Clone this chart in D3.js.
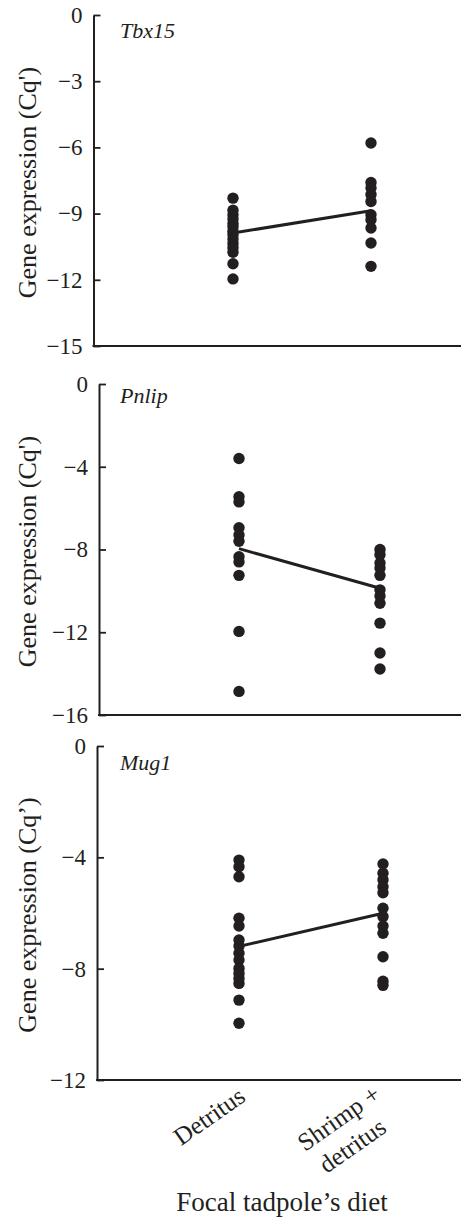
<!DOCTYPE html>
<html>
<head>
<meta charset="utf-8">
<script src="https://cdn.jsdelivr.net/npm/d3@7"></script>
<style>
  html, body { margin: 0; padding: 0; background: #fff; }
  svg { display: block; }
  text { font-family: "Liberation Serif", "Times New Roman", serif; fill: #231f20; }
</style>
</head>
<body>
<svg id="chart" width="461" height="1223"></svg>
<script>
// ---- data ----
const categories = ["Detritus", "Shrimp + detritus"];
const categoryLines = [["Detritus"], ["Shrimp +", "detritus"]];
const genes = ["Tbx15", "Pnlip", "Mug1"];
const yLabels = ["Gene expression (Cq')", "Gene expression (Cq')", "Gene expression (Cq’)"];
const yDomains = [[0, -15], [0, -16], [0, -12]];
const yTicks = [[0, -3, -6, -9, -12, -15], [0, -4, -8, -12, -16], [0, -4, -8, -12]];

const tbx15Detritus = [-8.3, -8.85, -9.05, -9.25, -9.45, -9.6, -9.8, -9.95, -10.15, -10.35, -10.55, -10.75, -11.27, -11.96];
const tbx15Shrimp = [-5.8, -7.59, -7.84, -8.14, -8.45, -9.05, -9.28, -9.65, -10.33, -11.39];
const tbx15Means = [-9.88, -8.87];

const pnlipDetritus = [-3.6, -5.45, -5.7, -6.95, -7.3, -7.6, -8.35, -8.6, -9.25, -11.96, -14.86];
const pnlipShrimp = [-8.0, -8.25, -8.65, -8.9, -9.25, -9.95, -10.25, -10.6, -11.56, -13.0, -13.78];
const pnlipMeans = [-7.96, -9.87];

const mug1Detritus = [-4.1, -4.34, -4.7, -6.19, -6.47, -6.97, -7.19, -7.45, -7.69, -7.99, -8.17, -8.35, -8.53, -9.13, -9.96];
const mug1Shrimp = [-4.24, -4.57, -4.81, -5.06, -5.27, -5.83, -6.13, -6.47, -6.73, -7.57, -8.45, -8.6];
const mug1Means = [-7.2, -6.01];

const xAxisTitle = "Focal tadpole’s diet";

// ---- layout ----
const W = 461;
const ink = "#231f20";
const panels = [
  { axisX: 93.5, yRange: [15, 346], xRange: [233, 371], titleY: 38, groups: [tbx15Detritus, tbx15Shrimp], means: tbx15Means },
  { axisX: 99, yRange: [384, 715], xRange: [239, 380], titleY: 403, groups: [pnlipDetritus, pnlipShrimp], means: pnlipMeans },
  { axisX: 97, yRange: [746, 1080], xRange: [239, 383], titleY: 770, groups: [mug1Detritus, mug1Shrimp], means: mug1Means }
];

const svg = d3.select("#chart");

panels.forEach((p, i) => {
  const y = d3.scaleLinear().domain(yDomains[i]).range(p.yRange);
  const x = d3.scalePoint().domain(categories).range(p.xRange);
  const g = svg.append("g");

  // y axis
  const ax = g.append("g")
    .attr("transform", `translate(${p.axisX},0)`)
    .call(d3.axisLeft(y).tickValues(yTicks[i]).tickSizeInner(-7).tickSizeOuter(0).tickPadding(11).tickFormat(d3.format("d")));
  ax.select(".domain").attr("stroke", ink).attr("stroke-width", 2);
  ax.selectAll(".tick line").attr("stroke", ink).attr("stroke-width", 1.8);
  ax.selectAll(".tick text").attr("font-size", 23).attr("font-family", "Liberation Serif").attr("fill", ink);

  // x axis line
  const yb = y(yDomains[i][1]);
  g.append("line")
    .attr("x1", p.axisX - 1).attr("x2", W)
    .attr("y1", yb).attr("y2", yb)
    .attr("stroke", ink).attr("stroke-width", 2.2);

  // gene title
  g.append("text")
    .attr("x", 120).attr("y", p.titleY)
    .attr("font-size", 22).attr("font-style", "italic")
    .text(genes[i]);

  // y label
  const yc = (p.yRange[0] + p.yRange[1]) / 2 + 2;
  g.append("text")
    .attr("transform", `translate(36,${yc}) rotate(-90)`)
    .attr("text-anchor", "middle")
    .attr("font-size", 26)
    .text(yLabels[i]);

  // mean line
  g.append("path")
    .datum(p.means.map((m, k) => [categories[k], m]))
    .attr("d", d3.line().x(d => x(d[0])).y(d => y(d[1])))
    .attr("fill", "none").attr("stroke", ink).attr("stroke-width", 3);

  // points
  p.groups.forEach((vals, k) => {
    g.selectAll(null).data(vals).enter().append("circle")
      .attr("cx", x(categories[k]))
      .attr("cy", d => y(d))
      .attr("r", 5.7)
      .attr("fill", ink);
  });

  // category labels on last panel
  if (i === panels.length - 1) {
    const offsets = [[[8, 1100]], [[-1, 1098], [5, 1131]]];
    categoryLines.forEach((lines, k) => {
      lines.forEach((ln, j) => {
        const [dx, yy] = offsets[k][j];
        g.append("text")
          .attr("transform", `translate(${x(categories[k]) + dx},${yy}) rotate(-35)`)
          .attr("text-anchor", "end")
          .attr("font-size", 25)
          .text(ln);
      });
    });
    g.append("text")
      .attr("x", 282).attr("y", 1211)
      .attr("text-anchor", "middle")
      .attr("font-size", 27)
      .text(xAxisTitle);
  }
});
</script>
</body>
</html>
